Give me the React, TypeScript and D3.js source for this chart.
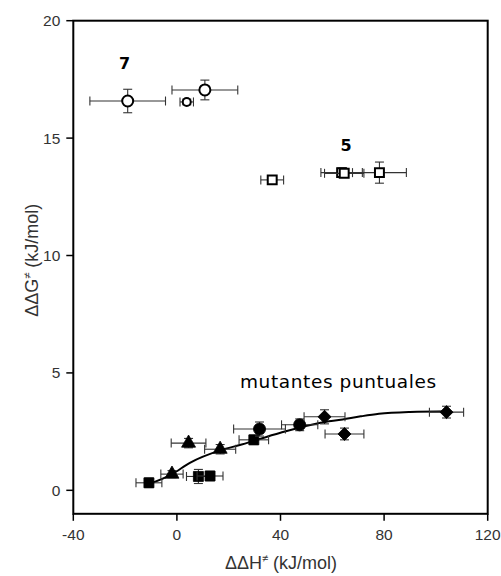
import React from "react";
import * as d3 from "d3";

// ΔΔH≠ (x) and ΔΔG≠ (y) values with their uncertainties, kJ/mol
type Pt = { x: number; y: number; xe: number; ye: number };

const variant7: Pt[] = [
  { x: -19, y: 16.58, xe: 14.6, ye: 0.5 },
  { x: 3.8, y: 16.54, xe: 2.6, ye: 0.12 },
  { x: 10.8, y: 17.05, xe: 12.7, ye: 0.42 },
];

const variant5: Pt[] = [
  { x: 36.8, y: 13.22, xe: 4.4, ye: 0.15 },
  { x: 63.6, y: 13.53, xe: 8, ye: 0.2 },
  { x: 64.6, y: 13.5, xe: 7.6, ye: 0.15 },
  { x: 78.2, y: 13.53, xe: 10.4, ye: 0.45 },
];

const pointSquares: Pt[] = [
  { x: -10.8, y: 0.32, xe: 5, ye: 0.2 },
  { x: 8.3, y: 0.59, xe: 4.6, ye: 0.3 },
  { x: 12.8, y: 0.61, xe: 5, ye: 0.2 },
  { x: 29.7, y: 2.15, xe: 5.7, ye: 0.2 },
];

const pointTriangles: Pt[] = [
  { x: -1.9, y: 0.69, xe: 4.3, ye: 0.15 },
  { x: 4.5, y: 2.01, xe: 6.7, ye: 0.2 },
  { x: 16.7, y: 1.75, xe: 6, ye: 0.2 },
];

const pointCircles: Pt[] = [
  { x: 31.9, y: 2.61, xe: 10, ye: 0.3 },
  { x: 47.4, y: 2.79, xe: 7, ye: 0.25 },
];

const pointDiamonds: Pt[] = [
  { x: 57, y: 3.13, xe: 7.9, ye: 0.3 },
  { x: 64.7, y: 2.4, xe: 7.5, ye: 0.25 },
  { x: 104.1, y: 3.33, xe: 6.6, ye: 0.25 },
];

// fitted trend through the point mutants
const fitX = [-11, -2, 5, 17, 25, 30, 40, 55, 64, 71, 78, 90, 105];
const fitY = [0.26, 0.68, 1.17, 1.71, 1.95, 2.12, 2.45, 2.87, 3.02, 3.15, 3.26, 3.34, 3.37];

const xTicks = [-40, 0, 40, 80, 120];
const yTicks = [0, 5, 10, 15, 20];

const W = 501;
const H = 576;

const x = d3.scaleLinear().domain([-40, 120]).range([73.3, 487.7]);
const y = d3.scaleLinear().domain([-1, 20]).range([513.8, 20.7]);

const ERR = "#333";
const CAP = 4.5;

function ErrorBars({ p }: { p: Pt }) {
  const cx = x(p.x);
  const cy = y(p.y);
  const x0 = x(p.x - p.xe);
  const x1 = x(p.x + p.xe);
  const y0 = y(p.y - p.ye);
  const y1 = y(p.y + p.ye);
  return (
    <g stroke={ERR} strokeWidth={1.1} fill="none">
      <line x1={x0} x2={x1} y1={cy} y2={cy} />
      <line x1={x0} x2={x0} y1={cy - CAP} y2={cy + CAP} />
      <line x1={x1} x2={x1} y1={cy - CAP} y2={cy + CAP} />
      <line x1={cx} x2={cx} y1={y0} y2={y1} />
      <line x1={cx - CAP} x2={cx + CAP} y1={y0} y2={y0} />
      <line x1={cx - CAP} x2={cx + CAP} y1={y1} y2={y1} />
    </g>
  );
}

const symbolPath = (type: d3.SymbolType, size: number) => d3.symbol().type(type).size(size)() as string;

function Series({
  data,
  type,
  size,
  filled,
  rotate = 0,
}: {
  data: Pt[];
  type: d3.SymbolType;
  size: (i: number) => number;
  filled: boolean;
  rotate?: number;
}) {
  return (
    <g>
      {data.map((p, i) => (
        <g key={i}>
          <ErrorBars p={p} />
          <path
            d={symbolPath(type, size(i))}
            transform={`translate(${x(p.x)},${y(p.y)}) rotate(${rotate})`}
            fill={filled ? "#000" : "#fff"}
            stroke="#000"
            strokeWidth={filled ? 0.8 : 2}
          />
        </g>
      ))}
    </g>
  );
}

export default function App() {
  const fitLine = d3
    .line<number>()
    .x((d) => x(d))
    .y((_, i) => y(fitY[i]))
    .curve(d3.curveMonotoneX)(fitX) as string;

  const axisFont = "'Liberation Sans', Arial, sans-serif";
  const labelFont = "'DejaVu Sans', sans-serif";

  return (
    <svg
      width={W}
      height={H}
      style={{ position: "absolute", left: 0, top: 0, background: "#fff" }}
    >
      <rect x={0} y={0} width={W} height={H} fill="#fff" />

      {/* frame */}
      <rect
        x={x(-40)}
        y={y(20)}
        width={x(120) - x(-40)}
        height={y(-1) - y(20)}
        fill="none"
        stroke="#000"
        strokeWidth={2}
      />

      {/* y axis ticks and labels */}
      {yTicks.map((t) => (
        <g key={t}>
          <line x1={x(-40) - 7} x2={x(-40)} y1={y(t)} y2={y(t)} stroke="#000" strokeWidth={1.5} />
          <text
            x={x(-40) - 13}
            y={y(t)}
            dy="0.35em"
            textAnchor="end"
            fontFamily={axisFont}
            fontSize={15.5}
            fill="#333"
          >
            {t}
          </text>
        </g>
      ))}

      {/* x axis ticks and labels */}
      {xTicks.map((t) => (
        <g key={t}>
          <line x1={x(t)} x2={x(t)} y1={y(-1)} y2={y(-1) + 7} stroke="#000" strokeWidth={1.5} />
          <text
            x={x(t)}
            y={y(-1) + 21}
            dy="0.35em"
            textAnchor="middle"
            fontFamily={axisFont}
            fontSize={15.5}
            fill="#333"
          >
            {t}
          </text>
        </g>
      ))}

      {/* axis titles */}
      <text
        x={281}
        y={569}
        textAnchor="middle"
        fontFamily={axisFont}
        fontSize={18}
        fill="#333"
      >
        ΔΔH
        <tspan fontSize={11} dy={-7}>≠</tspan>
        <tspan dy={7}> (kJ/mol)</tspan>
      </text>
      <text
        transform={`translate(38,${y(9.8)}) rotate(-90)`}
        textAnchor="middle"
        fontFamily={axisFont}
        fontSize={18}
        fill="#333"
      >
        ΔΔG
        <tspan fontSize={11} dy={-7}>≠</tspan>
        <tspan dy={7}> (kJ/mol)</tspan>
      </text>

      {/* fitted curve */}
      <path d={fitLine} fill="none" stroke="#000" strokeWidth={2} />

      {/* open markers: variants 7 and 5 */}
      <Series data={variant7} type={d3.symbolCircle} size={(i) => (i === 1 ? 50 : 95)} filled={false} />
      <Series data={variant5} type={d3.symbolSquare} size={() => 80} filled={false} />

      {/* filled markers: point mutants */}
      <Series data={pointSquares} type={d3.symbolSquare} size={() => 100} filled />
      <Series data={pointTriangles} type={d3.symbolTriangle} size={() => 85} filled />
      <Series data={pointCircles} type={d3.symbolCircle} size={() => 115} filled />
      <Series data={pointDiamonds} type={d3.symbolSquare} size={() => 85} filled rotate={45} />

      {/* group labels */}
      <text x={124.5} y={69} textAnchor="middle" fontFamily={labelFont} fontWeight="bold" fontSize={16} fill="#000">
        7
      </text>
      <text x={346} y={150.5} textAnchor="middle" fontFamily={labelFont} fontWeight="bold" fontSize={16} fill="#000">
        5
      </text>
      <text x={240} y={388} fontFamily={labelFont} fontSize={18.5} letterSpacing={0.6} fill="#000">
        mutantes puntuales
      </text>
    </svg>
  );
}
